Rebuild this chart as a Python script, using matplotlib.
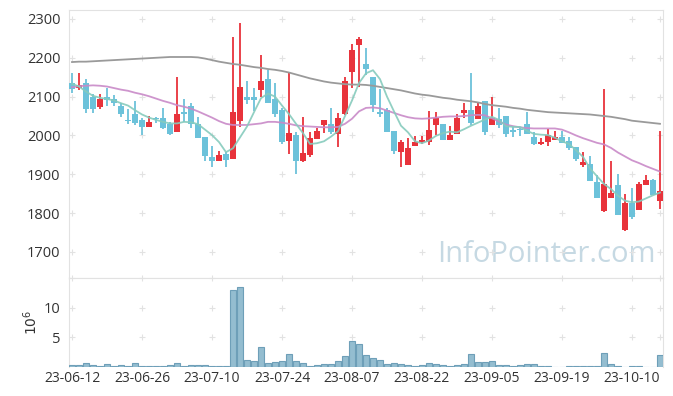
import matplotlib
matplotlib.use("Agg")
import matplotlib.pyplot as plt
import numpy as np

# daily candles (trading days 23-06-12 .. 23-10-16)
opens = [2134, 2122, 2134, 2099, 2073, 2099, 2094, 2077, 2040, 2055,
         2040, 2023, 2044, 2044, 2030, 2010, 2060, 2076, 2029, 1996,
         1945, 1935, 1951, 1940, 2037, 2099, 2099, 2118, 2145, 2093,
         2065, 1987, 2001, 1933, 1949, 1992, 2028, 2030, 2005, 2054,
         2164, 2234, 2184, 2151, 2060, 2065, 2012, 1958, 1925, 1974,
         1983, 1982, 2027, 2030, 1989, 2005, 2059, 2066, 2042, 2089,
         2028, 2042, 2050, 2014, 2017, 2030, 1996, 1979, 1984, 1989,
         1996, 1987, 1971, 1924, 1926, 1880, 1806, 1840, 1873, 1757,
         1826, 1809, 1873, 1885, 1830]
highs = [2160, 2160, 2145, 2106, 2108, 2123, 2104, 2083, 2069, 2088,
         2045, 2050, 2048, 2070, 2034, 2151, 2093, 2083, 2048, 1996,
         1974, 1960, 1958, 2253, 2289, 2140, 2122, 2207, 2169, 2134,
         2070, 2164, 2010, 2048, 2010, 2018, 2039, 2070, 2059, 2151,
         2235, 2253, 2224, 2151, 2120, 2070, 2012, 1988, 1993, 1998,
         1998, 2064, 2060, 2030, 2024, 2054, 2083, 2160, 2083, 2089,
         2100, 2070, 2050, 2023, 2023, 2060, 2010, 1993, 2017, 2012,
         2012, 1995, 1971, 1957, 1948, 1898, 2119, 1934, 1900, 1849,
         1866, 1880, 1898, 1888, 2012]
lows = [2109, 2117, 2059, 2059, 2069, 2077, 2075, 2048, 2030, 2028,
        2001, 2022, 2031, 2017, 2000, 2008, 2035, 2018, 1994, 1933,
        1920, 1935, 1920, 1940, 2023, 2081, 2064, 2100, 2083, 2048,
        1979, 1951, 1900, 1932, 1945, 1992, 2006, 2003, 1969, 2053,
        2123, 2125, 2156, 2060, 2048, 2010, 1953, 1920, 1925, 1974,
        1979, 1976, 2001, 1988, 1989, 2004, 2044, 2027, 2042, 2001,
        2028, 2018, 1996, 1996, 1999, 2004, 1976, 1976, 1974, 1989,
        1981, 1963, 1934, 1920, 1883, 1840, 1804, 1840, 1794, 1755,
        1786, 1809, 1873, 1847, 1811]
closes = [2119, 2131, 2069, 2069, 2094, 2091, 2084, 2054, 2037, 2033,
          2023, 2035, 2042, 2018, 2005, 2055, 2054, 2029, 1994, 1948,
          1933, 1950, 1938, 2060, 2125, 2092, 2092, 2140, 2084, 2054,
          1984, 2006, 1933, 1955, 1993, 2011, 2039, 2010, 2044, 2140,
          2219, 2248, 2172, 2079, 2054, 2010, 1960, 1983, 1968, 1983,
          1988, 2014, 2044, 1988, 2000, 2044, 2066, 2033, 2076, 2010,
          2044, 2027, 2005, 2010, 2014, 2005, 1978, 1984, 2000, 1996,
          1981, 1968, 1940, 1932, 1884, 1840, 1875, 1852, 1794, 1826,
          1791, 1875, 1885, 1847, 1857]
# volume in millions
volumes = [0.33, 0.33, 0.67, 0.33, 0.17, 0.5, 0.17, 0.33, 0.17, 0.67,
           0.17, 0.17, 0.17, 0.17, 0.33, 0.67, 0.17, 0.33, 0.33, 0.33,
           0.17, 0.17, 0.17, 13.0, 13.5, 1.17, 1.0, 3.33, 0.67, 0.83,
           1.0, 2.17, 1.0, 0.67, 0.17, 0.33, 0.5, 0.5, 1.0, 1.83,
           4.33, 3.83, 2.0, 1.5, 1.17, 0.5, 0.67, 0.5, 0.33, 0.17,
           0.33, 0.67, 0.5, 0.33, 0.17, 0.33, 0.5, 2.17, 0.83, 0.83,
           1.0, 0.33, 0.33, 0.17, 0.33, 0.5, 0.5, 0.17, 0.17, 0.03,
           0.03, 0.17, 0.17, 0.17, 0.17, 0.17, 2.33, 0.5, 0.17, 0.03,
           0.17, 0.17, 0.03, 0.03, 2.0]
ma5 = [2133, 2126, 2113, 2102, 2097, 2094, 2090, 2083, 2077, 2065,
       2054, 2046, 2040, 2035, 2031, 2031, 2035, 2034, 2029, 2015,
       2001, 1983, 1957, 1967, 1995, 2023, 2060, 2096, 2108, 2100,
       2077, 2055, 2030, 2006, 1978, 1980, 1985, 1997, 2011, 2050,
       2090, 2135, 2160, 2168, 2145, 2100, 2062, 2025, 2008, 1985,
       1980, 1987, 1999, 2006, 2010, 2008, 2016, 2025, 2033, 2041,
       2048, 2040, 2024, 2022, 2022, 2012, 2004, 2002, 2001, 1994,
       1985, 1978, 1962, 1945, 1915, 1895, 1875, 1862, 1845, 1832,
       1828, 1830, 1838, 1846, 1853]
ma20 = [2124, 2127, 2128, 2129, 2128, 2126, 2122, 2118, 2115, 2110,
        2106, 2101, 2095, 2089, 2084, 2078, 2074, 2069, 2062, 2054,
        2046, 2037, 2030, 2027, 2027, 2027, 2029, 2031, 2035, 2035,
        2033, 2030, 2026, 2024, 2023, 2022, 2021, 2021, 2022, 2030,
        2043, 2062, 2071, 2072, 2070, 2064, 2058, 2052, 2047, 2044,
        2043, 2044, 2046, 2048, 2049, 2049, 2050, 2052, 2053, 2052,
        2044, 2036, 2028, 2024, 2021, 2019, 2018, 2018, 2018, 2018,
        2015, 2008, 2000, 1993, 1987, 1981, 1977, 1968, 1956, 1946,
        1936, 1929, 1921, 1914, 1907]
ma_long = [2189, 2190, 2190, 2191, 2192, 2193, 2194, 2195, 2196, 2197,
           2198, 2199, 2200, 2201, 2202, 2202, 2202, 2202, 2201, 2198,
           2194, 2190, 2187, 2184, 2182, 2179, 2176, 2174, 2171, 2169,
           2166, 2162, 2157, 2152, 2147, 2143, 2139, 2136, 2134, 2132,
           2131, 2131, 2130, 2128, 2125, 2122, 2119, 2116, 2112, 2108,
           2105, 2103, 2100, 2097, 2095, 2092, 2090, 2088, 2085, 2081,
           2078, 2076, 2074, 2071, 2069, 2066, 2064, 2062, 2060, 2059,
           2058, 2057, 2056, 2055, 2054, 2052, 2050, 2048, 2045, 2042,
           2038, 2036, 2034, 2032, 2030]
tick_labels = ['23-06-12', '23-06-26', '23-07-10', '23-07-24', '23-08-07',
               '23-08-22', '23-09-05', '23-09-19', '23-10-10']

plt.rcParams['font.family'] = ['Open Sans', 'DejaVu Sans']

UP = '#e8333b'
DOWN = '#6cc2da'
FRAME = '#e2e2e2'

o = np.array(opens); h = np.array(highs); l = np.array(lows); c = np.array(closes)
x = np.arange(len(o))
tick_pos = np.arange(len(tick_labels)) * 10
colors = np.where(c >= o, UP, DOWN)

fig = plt.figure(figsize=(6.73, 3.96), dpi=100)
ax = fig.add_axes([69/673, 1 - 278/396, 594/673, 268/396])
axv = fig.add_axes([69/673, 1 - 367/396, 594/673, 89/396], sharex=ax)

# candles
ax.vlines(x, l, h, colors=colors, lw=1.3, zorder=2)
body = np.maximum(np.abs(c - o), 2.5)
ax.bar(x, body, 0.72, bottom=np.minimum(o, c), color=colors, lw=0, zorder=3)

ax.plot(x, ma_long, color='#9a9a9a', lw=1.3, zorder=4)
ax.plot(x, ma20, color='#c98ac8', lw=1.3, alpha=0.9, zorder=4)
ax.plot(x, ma5, color='#86cbbd', lw=1.3, alpha=0.9, zorder=4)

ax.set_xlim(-0.43, 84.43)
ax.set_ylim(1633, 2323)
ax.set_yticks(np.arange(1700, 2301, 100))

axv.bar(x, volumes, 0.92, color='#94bdd0', edgecolor='#6e9fb8', lw=0.8, zorder=3)
axv.set_ylim(0, 15)
axv.set_yticks([5, 10])
axv.set_ylabel('$10^6$', fontsize=10, color='#333333', labelpad=2)

# grid shown as small crosses
gx = np.append(tick_pos, x[-1])
for a, ys in ((ax, np.arange(1700, 2301, 100)), (axv, [5, 10, 15])):
    gxx, gyy = np.meshgrid(gx, ys)
    a.scatter(gxx.ravel(), gyy.ravel(), marker='+', s=18, color='#e2e2e2',
              lw=0.8, zorder=1, clip_on=False)
    for s in a.spines.values():
        s.set_color(FRAME)
    a.tick_params(length=0, labelsize=10, colors='#333333', pad=6)
    a.set_facecolor('white')
axv.spines['bottom'].set_visible(False)
ax.tick_params(axis='y', labelsize=10.5)
axv.tick_params(axis='y', labelsize=10.5)

ax.tick_params(labelbottom=False)
axv.set_xticks(tick_pos)
axv.set_xticklabels(tick_labels)
axv.tick_params(axis='x', pad=3)

ax.text(0.803, 0.088, 'InfoPointer.com', transform=ax.transAxes, ha='center',
        va='center', fontsize=21, color='#c6d9e3', zorder=0)

plt.savefig('out.png', dpi=100)
